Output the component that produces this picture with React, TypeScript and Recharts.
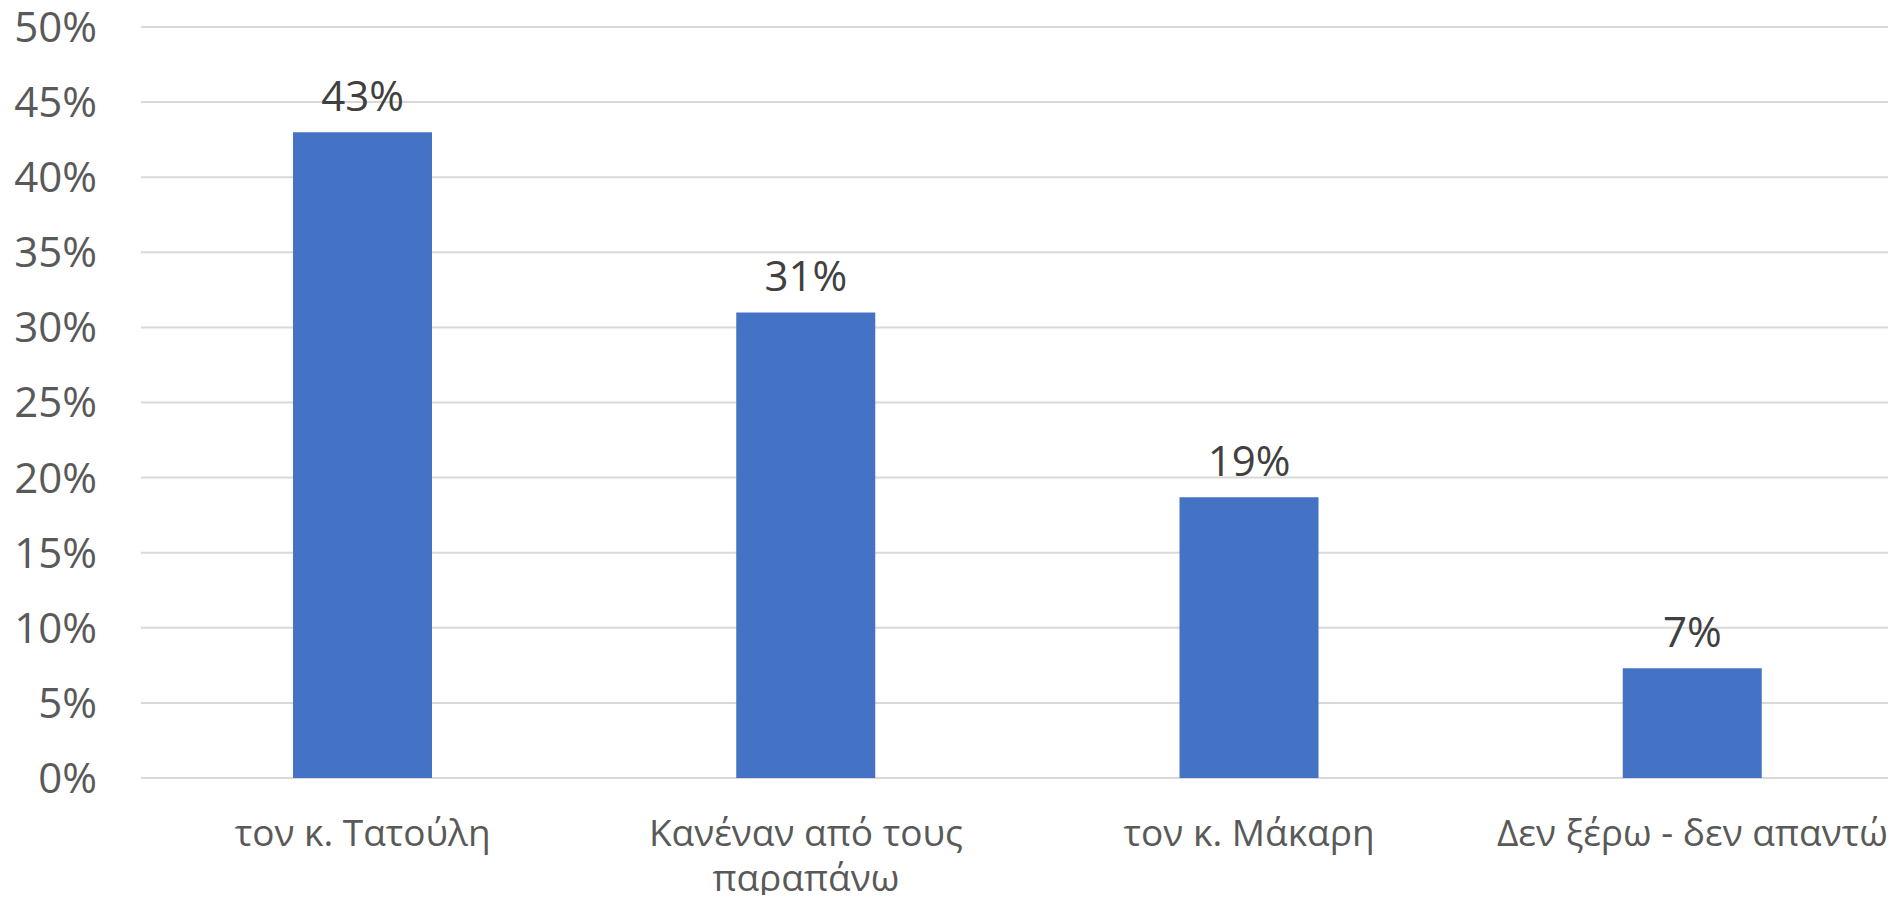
import React from 'react';
import { BarChart, Bar, XAxis, YAxis, CartesianGrid, LabelList } from 'recharts';

const categories = ['τον κ. Τατούλη', 'Κανέναν από τους παραπάνω', 'τον κ. Μάκαρη', 'Δεν ξέρω - δεν απαντώ'];
const values = [43, 31, 18.7, 7.3];
const yTicks = [0, 5, 10, 15, 20, 25, 30, 35, 40, 45, 50];

const data = categories.map((name, i) => ({ name, value: values[i] }));

const FONT = '"Open Sans", "Noto Sans", sans-serif';
const X_FONT_SIZE = 37;
const WRAP_WIDTH = 430;

let ctx: CanvasRenderingContext2D | null = null;
function measure(s: string): number {
  if (typeof document === 'undefined') return s.length * X_FONT_SIZE * 0.55;
  if (!ctx) {
    const c = document.createElement('canvas');
    ctx = c.getContext('2d');
  }
  if (!ctx) return s.length * X_FONT_SIZE * 0.55;
  ctx.font = `${X_FONT_SIZE}px "Open Sans"`;
  return ctx.measureText(s).width;
}

function wrap(label: string): string[] {
  const words = label.split(' ');
  const lines: string[] = [];
  let cur = '';
  for (const w of words) {
    const next = cur ? `${cur} ${w}` : w;
    if (cur && measure(next) > WRAP_WIDTH) {
      lines.push(cur);
      cur = w;
    } else {
      cur = next;
    }
  }
  if (cur) lines.push(cur);
  return lines;
}

const XTick = (props: any) => {
  const { x, y, payload } = props;
  const lines = wrap(String(payload.value));
  return (
    <text
      x={x}
      y={y + 68}
      textAnchor="middle"
      fill="#595959"
      fontSize={X_FONT_SIZE}
      fontFamily={FONT}
    >
      {lines.map((l, i) => (
        <tspan key={i} x={x} dy={i === 0 ? 0 : 45}>
          {l}
        </tspan>
      ))}
    </text>
  );
};

export default function App() {
  return (
    <div style={{ margin: -8, width: 1896, height: 903, overflow: 'hidden', position: 'relative', background: '#fff' }}>
      <BarChart
        width={1914}
        height={903}
        data={data}
        margin={{ top: 27, right: 0, bottom: 0, left: 0 }}
        barCategoryGap={0}
      >
        <CartesianGrid vertical={false} stroke="#d9d9d9" strokeWidth={2} />
        <XAxis
          dataKey="name"
          axisLine={false}
          tickLine={false}
          tickSize={0}
          tickMargin={0}
          height={125}
          interval={0}
          tick={<XTick />}
        />
        <YAxis
          domain={[0, 50]}
          ticks={yTicks}
          width={141}
          axisLine={false}
          tickLine={false}
          tickSize={0}
          tickMargin={44}
          tickFormatter={(v: number) => `${v}%`}
          tick={{ fill: '#595959', fontSize: 42, fontFamily: FONT }}
          interval={0}
        />
        <Bar dataKey="value" fill="#4472C4" barSize={139} isAnimationActive={false}>
          <LabelList
            dataKey="value"
            position="top"
            offset={21}
            formatter={(v: number) => `${Math.round(v)}%`}
            fill="#404040"
            fontSize={42}
            fontFamily={FONT}
          />
        </Bar>
      </BarChart>
    </div>
  );
}
